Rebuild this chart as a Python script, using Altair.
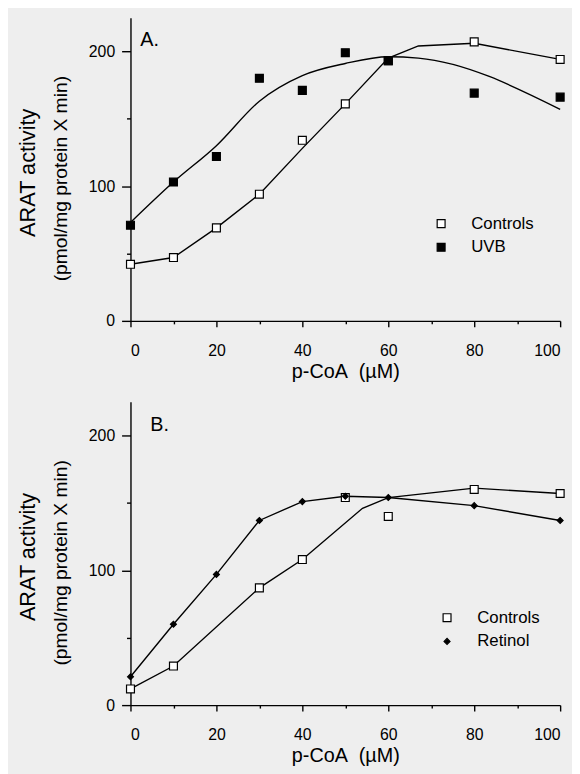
import altair as alt
import pandas as pd

FONT = "Liberation Sans"

# ---------------- Panel A data ----------------
a_x = [0, 10, 20, 30, 40, 50, 60, 80, 100]
a_controls = [42, 47, 69, 94, 134, 161, 193, 207, 194]
a_uvb = [71, 103, 122, 180, 171, 199, 193, 169, 166]
a_controls_fit_x = [0, 10, 20, 30, 40, 50, 60, 67, 80, 100]
a_controls_fit_y = [42, 47, 69, 94, 128, 161, 195, 204, 206, 194]
a_uvb_fit_x = [0, 10, 20, 30, 40, 50, 60, 67, 100]
a_uvb_fit_y = [73, 103, 130, 163, 182, 191, 196, 195, 157]

# ---------------- Panel B data ----------------
b_controls_x = [0, 10, 30, 40, 50, 60, 80, 100]
b_controls = [12, 29, 87, 108, 154, 140, 160, 157]
b_retinol_x = [0, 10, 20, 30, 40, 50, 60, 80, 100]
b_retinol = [21, 60, 97, 137, 151, 155, 154, 148, 137]
b_controls_fit_x = [0, 10, 30, 40, 54, 60, 80, 100]
b_controls_fit_y = [12, 29, 87, 108, 146, 154, 161, 157]
b_retinol_fit_x = [0, 10, 20, 30, 40, 50, 60, 80, 100]
b_retinol_fit_y = [21, 60, 97, 137, 151, 155, 154, 148, 137]

x_ticks = [0, 10, 20, 30, 40, 50, 60, 70, 80, 90, 100]
y_ticks = [0, 50, 100, 150, 200]
x_title = "p-CoA\u00a0\u00a0(\u00b5M)"
y_title = "ARAT activity"
y_sub = "(pmol/mg protein X min)"


def frame(xs, ys, name):
    return pd.DataFrame({"x": xs, "y": ys, "series": name})


def panel(pts, fit_lin, fit_smooth, smooth_interp, series, fills, shapes, sizes,
          letter, height, letter_x, legend_x, legend_y):
    xs = alt.X("x:Q", scale=alt.Scale(domain=[0, 100], nice=False),
               axis=alt.Axis(values=x_ticks, labelExpr="datum.value % 20 == 0 ? datum.label : ''",
                             tickSize={"condition": {"test": "datum.value % 20 == 0", "value": 6}, "value": 3},
                             labelPadding=16, titlePadding=3,
                             title=x_title, grid=False))
    ys = alt.Y("y:Q", scale=alt.Scale(domain=[0, 225], nice=False),
               axis=alt.Axis(values=y_ticks, labelExpr="datum.value % 100 == 0 ? datum.label : ''",
                             tickSize={"condition": {"test": "datum.value % 100 == 0", "value": 9}, "value": 4},
                             labelPadding=7, title=None, grid=False))
    line1 = alt.Chart(fit_lin).mark_line(color="black", strokeWidth=1.4).encode(
        x=xs, y=ys, detail="series:N")
    line2 = alt.Chart(fit_smooth).mark_line(color="black", strokeWidth=1.4,
                                            interpolate=smooth_interp).encode(
        x=xs, y=ys, detail="series:N")
    leg = alt.Legend(title=None, orient="none", legendX=legend_x, legendY=legend_y,
                     labelFont=FONT, labelFontSize=17, labelColor="black",
                     labelOffset=22, rowPadding=6, padding=0, symbolStrokeColor="black",
                     symbolStrokeWidth=1.2)
    points = alt.Chart(pts).mark_point(filled=True, strokeWidth=1.2, opacity=1).encode(
        x=xs, y=ys,
        shape=alt.Shape("series:N", scale=alt.Scale(domain=series, range=shapes), legend=leg),
        fill=alt.Fill("series:N", scale=alt.Scale(domain=series, range=fills), legend=leg),
        stroke=alt.Stroke("series:N", scale=alt.Scale(domain=series, range=["black", "black"]), legend=leg),
        size=alt.Size("series:N", scale=alt.Scale(domain=series, range=sizes), legend=leg),
    )
    letter_mark = alt.Chart(pd.DataFrame({"t": [letter]})).mark_text(
        font=FONT, fontSize=20, align="left", baseline="alphabetic", color="black"
    ).encode(x=alt.value(letter_x), y=alt.value(29), text="t:N")
    t1 = alt.Chart(pd.DataFrame({"t": [y_title]})).mark_text(
        font=FONT, fontSize=22, angle=270, align="center", baseline="middle", color="black"
    ).encode(x=alt.value(-104), y=alt.value(157), text="t:N")
    t2 = alt.Chart(pd.DataFrame({"t": [y_sub]})).mark_text(
        font=FONT, fontSize=19.5, angle=270, align="center", baseline="middle", color="black"
    ).encode(x=alt.value(-70), y=alt.value(163), text="t:N")
    return alt.layer(line1, line2, points, letter_mark, t1, t2).properties(width=435, height=height)


pts_a = pd.concat([frame(a_x, a_controls, "Controls"), frame(a_x, a_uvb, "UVB")])
lin_a = frame(a_controls_fit_x, a_controls_fit_y, "Controls")
smooth_a = frame(a_uvb_fit_x, a_uvb_fit_y, "UVB")
pts_b = pd.concat([frame(b_controls_x, b_controls, "Controls"), frame(b_retinol_x, b_retinol, "Retinol")])
lin_b = frame(b_controls_fit_x, b_controls_fit_y, "Controls")
smooth_b = frame(b_retinol_fit_x, b_retinol_fit_y, "Retinol")

chart_a = panel(pts_a, lin_a, smooth_a, "monotone", ["Controls", "UVB"], ["white", "black"],
                ["square", "square"], [64, 64], "A.", 307, 10, 306, 200)
chart_b = panel(pts_b, lin_b, smooth_b, "linear", ["Controls", "Retinol"], ["white", "black"],
                ["square", "diamond"], [64, 36], "B.", 307, 20, 312, 210)

chart = alt.vconcat(chart_a, chart_b, spacing=21).resolve_scale(
    shape="independent", fill="independent", size="independent", stroke="independent"
).resolve_legend(
    shape="independent", fill="independent", size="independent", stroke="independent"
).configure_view(
    stroke=None
).configure_axis(
    domainColor="black", domainWidth=1.4, tickColor="black", tickWidth=1.4,
    labelFont=FONT, labelFontSize=16, labelColor="black",
    titleFont=FONT, titleFontSize=20, titleFontWeight="normal", titleColor="black"
).properties(background="#eeeeee", padding={"left": 9, "top": 5, "right": 5, "bottom": 5})

chart.save("out.html", embed_options={"renderer": "svg", "actions": False})
